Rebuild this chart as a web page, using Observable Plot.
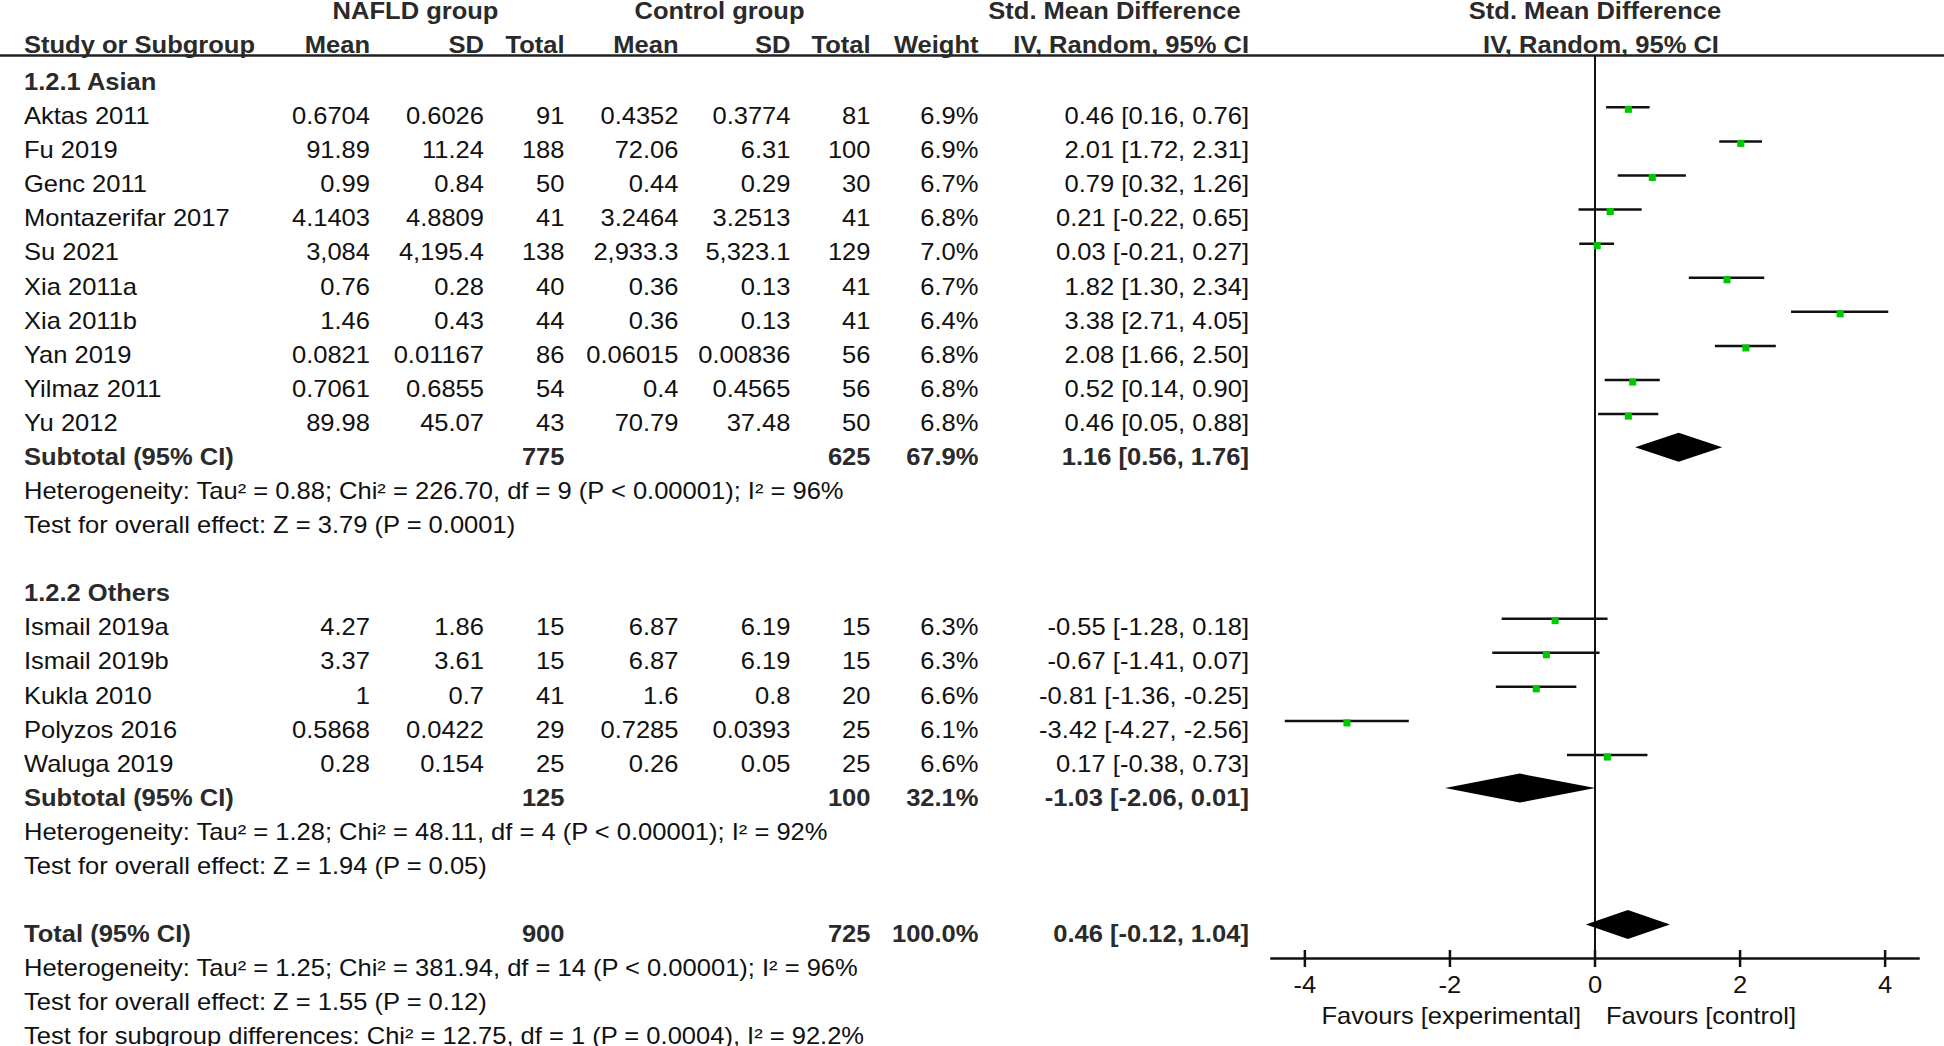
<!DOCTYPE html>
<html><head><meta charset="utf-8">
<script src="https://cdn.jsdelivr.net/npm/d3@7"></script>
<script src="https://cdn.jsdelivr.net/npm/@observablehq/plot@0.6"></script>
<style>html,body{margin:0;padding:0;background:#fff}</style>
</head><body><div id="chart"></div>
<script>
// ---------------- data ----------------
const studies = ["Aktas 2011","Fu 2019","Genc 2011","Montazerifar 2017","Su 2021","Xia 2011a","Xia 2011b","Yan 2019","Yilmaz 2011","Yu 2012","Ismail 2019a","Ismail 2019b","Kukla 2010","Polyzos 2016","Waluga 2019"];
const nafldMean = ["0.6704","91.89","0.99","4.1403","3,084","0.76","1.46","0.0821","0.7061","89.98","4.27","3.37","1","0.5868","0.28"];
const nafldSD = ["0.6026","11.24","0.84","4.8809","4,195.4","0.28","0.43","0.01167","0.6855","45.07","1.86","3.61","0.7","0.0422","0.154"];
const nafldTotal = [91,188,50,41,138,40,44,86,54,43,15,15,41,29,25];
const ctrlMean = ["0.4352","72.06","0.44","3.2464","2,933.3","0.36","0.36","0.06015","0.4","70.79","6.87","6.87","1.6","0.7285","0.26"];
const ctrlSD = ["0.3774","6.31","0.29","3.2513","5,323.1","0.13","0.13","0.00836","0.4565","37.48","6.19","6.19","0.8","0.0393","0.05"];
const ctrlTotal = [81,100,30,41,129,41,41,56,56,50,15,15,20,25,25];
const weight = [6.9,6.9,6.7,6.8,7.0,6.7,6.4,6.8,6.8,6.8,6.3,6.3,6.6,6.1,6.6];
const smd = [0.46,2.01,0.79,0.21,0.03,1.82,3.38,2.08,0.52,0.46,-0.55,-0.67,-0.81,-3.42,0.17];
const ciLow = [0.16,1.72,0.32,-0.22,-0.21,1.30,2.71,1.66,0.14,0.05,-1.28,-1.41,-1.36,-4.27,-0.38];
const ciHigh = [0.76,2.31,1.26,0.65,0.27,2.34,4.05,2.50,0.90,0.88,0.18,0.07,-0.25,-2.56,0.73];
const studyGroup = ["Asian","Asian","Asian","Asian","Asian","Asian","Asian","Asian","Asian","Asian","Others","Others","Others","Others","Others"];

const groupLabels = ["1.2.1 Asian","1.2.2 Others"];
const summaryLabels = ["Subtotal (95% CI)","Subtotal (95% CI)","Total (95% CI)"];
const summaryNafld = [775,125,900];
const summaryCtrl = [625,100,725];
const summaryWeight = [67.9,32.1,100.0];
const summaryEst = [1.16,-1.03,0.46];
const summaryLow = [0.56,-2.06,-0.12];
const summaryHigh = [1.76,0.01,1.04];
const notes = [
  "Heterogeneity: Tau² = 0.88; Chi² = 226.70, df = 9 (P < 0.00001); I² = 96%",
  "Test for overall effect: Z = 3.79 (P = 0.0001)",
  "Heterogeneity: Tau² = 1.28; Chi² = 48.11, df = 4 (P < 0.00001); I² = 92%",
  "Test for overall effect: Z = 1.94 (P = 0.05)",
  "Heterogeneity: Tau² = 1.25; Chi² = 381.94, df = 14 (P < 0.00001); I² = 96%",
  "Test for overall effect: Z = 1.55 (P = 0.12)",
  "Test for subgroup differences: Chi² = 12.75, df = 1 (P = 0.0004), I² = 92.2%"
];
const headerTop = ["NAFLD group","Control group","Std. Mean Difference"];
const headerCols = ["Study or Subgroup","Mean","SD","Total","Mean","SD","Total","Weight","IV, Random, 95% CI"];
const plotHeader = ["Std. Mean Difference","IV, Random, 95% CI"];
const xTicks = [-4,-2,0,2,4];
const favours = ["Favours [experimental]","Favours [control]"];

// ---------------- layout ----------------
const W = 1944, H = 1046;
const mLeft = 1271, mRight = 26, mTop = 55, mBottom = 88;
const FONT = "'Liberation Sans', Arial, Helvetica, sans-serif";
const FS = 23, STRETCH = 1.11;
const INK = "#111", BOLDINK = "#2a2a2a";
const rowStep = 34.09, row0 = 82.1;
const headTopRow = -2.07, headSubRow = -1.09;

// row indices in the table
const groupRows = {Asian: d3.range(1, 11), Others: d3.range(16, 21)};
const groupHeadRows = [0, 15];
const summaryRows = [11, 21, 25];
const noteRows = [12, 13, 22, 23, 26, 27, 28];

const counters = {Asian: 0, Others: 0};
const f2 = v => v.toFixed(2);
const studyTable = studies.map((name, i) => ({
  name, row: groupRows[studyGroup[i]][counters[studyGroup[i]]++],
  nm: nafldMean[i], ns: nafldSD[i], nt: String(nafldTotal[i]),
  cm: ctrlMean[i], cs: ctrlSD[i], ct: String(ctrlTotal[i]),
  w: weight[i].toFixed(1) + "%",
  ci: `${f2(smd[i])} [${f2(ciLow[i])}, ${f2(ciHigh[i])}]`,
  est: smd[i], lo: ciLow[i], hi: ciHigh[i]
}));
const summaryTable = summaryLabels.map((name, i) => ({
  name, row: summaryRows[i], nt: String(summaryNafld[i]), ct: String(summaryCtrl[i]),
  w: summaryWeight[i].toFixed(1) + "%",
  ci: `${f2(summaryEst[i])} [${f2(summaryLow[i])}, ${f2(summaryHigh[i])}]`,
  est: summaryEst[i], lo: summaryLow[i], hi: summaryHigh[i]
}));
const half = 14.5 / rowStep;
const diamonds = summaryTable.flatMap((d, i) => [
  {id: i, x: d.lo, y1: d.row, y2: d.row},
  {id: i, x: d.est, y1: d.row - half, y2: d.row + half},
  {id: i, x: d.hi, y1: d.row, y2: d.row}
]);
const noteTable = notes.map((text, i) => ({text, row: noteRows[i]}));
const groupTable = groupLabels.map((text, i) => ({text, row: groupHeadRows[i]}));

// column right edges (px from the left of the page)
const cols = [
  {key: "nm", x: 369.5}, {key: "ns", x: 483.5}, {key: "nt", x: 564},
  {key: "cm", x: 678}, {key: "cs", x: 790}, {key: "ct", x: 870},
  {key: "w", x: 978}, {key: "ci", x: 1248.5}
];
const nameX = 23.5;
const headerTopX = [415, 719, 1114];

const txt = (data, opts) => Plot.text(data, {
  frameAnchor: "left", fontSize: FS, fontFamily: FONT, fill: INK, ...opts,
  dx: (opts.px ?? 0) - mLeft
});

const marks = [
  // header rule across the whole page
  Plot.frame({anchor: "top", insetLeft: -mLeft, insetRight: -mRight, stroke: "#222", strokeWidth: 2.5}),
  // top headers
  ...headerTop.map((t, i) => txt([t], {text: d => d, y: () => headTopRow, px: headerTopX[i], textAnchor: "middle", fontWeight: "bold", fill: BOLDINK})),
  txt([headerCols[0]], {text: d => d, y: () => headSubRow, px: nameX, textAnchor: "start", fontWeight: "bold", fill: BOLDINK}),
  ...cols.map((c, i) => txt([headerCols[i + 1]], {text: d => d, y: () => headSubRow, px: c.x, textAnchor: "end", fontWeight: "bold", fill: BOLDINK})),
  Plot.text([plotHeader[0]], {text: d => d, x: () => 0, y: () => headTopRow, fontSize: FS, fontFamily: FONT, fontWeight: "bold", fill: BOLDINK}),
  Plot.text([plotHeader[1]], {text: d => d, x: () => 0, y: () => headSubRow, dx: 6, fontSize: FS, fontFamily: FONT, fontWeight: "bold", fill: BOLDINK}),
  // group headings
  txt(groupTable, {text: "text", y: "row", px: nameX, textAnchor: "start", fontWeight: "bold", fill: BOLDINK}),
  // study rows
  txt(studyTable, {text: "name", y: "row", px: nameX, textAnchor: "start"}),
  ...cols.map(c => txt(studyTable, {text: c.key, y: "row", px: c.x, textAnchor: "end"})),
  // summary rows
  txt(summaryTable, {text: "name", y: "row", px: nameX, textAnchor: "start", fontWeight: "bold", fill: BOLDINK}),
  ...cols.filter(c => ["nt", "ct", "w", "ci"].includes(c.key)).map(c =>
    txt(summaryTable, {text: c.key, y: "row", px: c.x, textAnchor: "end", fontWeight: "bold", fill: BOLDINK})),
  // notes
  txt(noteTable, {text: "text", y: "row", px: nameX, textAnchor: "start"}),
  // zero line
  Plot.ruleX([0], {stroke: "#111", strokeWidth: 2}),
  // axis line + ticks + labels
  Plot.frame({anchor: "bottom", stroke: "#111", strokeWidth: 2.5}),
  Plot.axisX({ticks: xTicks, tickSize: 17, dy: -8, text: null, stroke: "#111", strokeWidth: 2.5, label: null}),
  Plot.axisX({ticks: xTicks, tickSize: 0, tickPadding: 18, tickFormat: d => String(d), fontSize: FS, fontFamily: FONT, fill: INK, label: null}),
  Plot.text([favours[0]], {text: d => d, x: () => 0, frameAnchor: "bottom", dy: 65, dx: -14, textAnchor: "end", fontSize: FS, fontFamily: FONT, fill: INK}),
  Plot.text([favours[1]], {text: d => d, x: () => 0, frameAnchor: "bottom", dy: 65, dx: 11, textAnchor: "start", fontSize: FS, fontFamily: FONT, fill: INK}),
  // confidence intervals and point estimates
  Plot.ruleY(studyTable, {y: "row", x1: "lo", x2: "hi", stroke: "#111", strokeWidth: 2.5, dy: -9.4}),
  Plot.dot(studyTable, {x: "est", y: "row", symbol: "square", r: 4, fill: "#00c800", stroke: "none", dy: -7.4}),
  // pooled diamonds
  Plot.areaY(diamonds, {x: "x", y1: "y1", y2: "y2", z: "id", fill: "#000", curve: "linear", dy: -9.9})
];

const chart = Plot.plot({
  width: W, height: H,
  marginLeft: mLeft, marginRight: mRight, marginTop: mTop, marginBottom: mBottom,
  x: {domain: [-4.46, 4.46], axis: null},
  y: {domain: [0, 28], range: [row0, row0 + 28 * rowStep], axis: null},
  style: {background: "#fff", fontFamily: FONT, overflow: "visible"},
  marks
});
// widen the glyphs slightly (the reference typeface is a touch wider than it is tall)
d3.select(chart).selectAll("text").each(function () {
  const t = this.getAttribute("transform");
  if (t && t.includes("translate")) {
    this.setAttribute("transform", `${t} scale(${STRETCH},1)`);
  } else {
    const x = +(this.getAttribute("x") || 0), y = +(this.getAttribute("y") || 0);
    this.removeAttribute("x"); this.removeAttribute("y");
    this.setAttribute("transform", `${t || ""} translate(${x},${y}) scale(${STRETCH},1)`);
  }
});
document.getElementById("chart").appendChild(chart);
</script>
</body></html>
